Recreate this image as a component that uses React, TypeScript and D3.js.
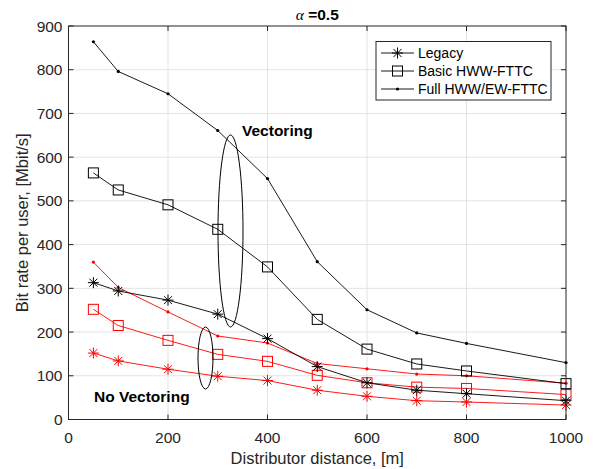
import React, { useEffect, useRef } from "react";
import * as d3 from "d3";

// distances, [m]
const distances = [50, 100, 200, 300, 400, 500, 600, 700, 800, 1000];

// vectoring (black)
const legacyVec = [313, 294, 273, 241, 185, 121, 84, 67, 59, 43];
const basicVec = [564, 525, 491, 435, 349, 229, 161, 127, 111, 82];
const fullVec = [864, 796, 745, 661, 551, 361, 251, 198, 174, 130];

// no vectoring (red)
const legacyNoVec = [152, 134, 115, 99, 89, 67, 53, 43, 40, 33];
const basicNoVec = [252, 215, 181, 149, 133, 101, 84, 74, 71, 57];
const fullNoVec = [360, 302, 246, 191, 175, 128, 116, 104, 100, 83];

const xTicks = [0, 200, 400, 600, 800, 1000];
const yTicks = [0, 100, 200, 300, 400, 500, 600, 700, 800, 900];
const legendNames = ["Legacy", "Basic HWW-FTTC", "Full HWW/EW-FTTC"];

const W = 593;
const H = 469;
const m = { left: 68.5, right: 27, top: 26, bottom: 49.5 };
const axisCol = "#262626";
const font = "'Liberation Sans', Arial, sans-serif";

function App() {
    const svgRef = useRef<SVGSVGElement>(null);

    useEffect(() => {
        const svg = d3.select(svgRef.current);
        svg.selectAll("*").remove();

        const x = d3.scaleLinear().domain([0, 1000]).range([m.left, W - m.right]);
        const y = d3.scaleLinear().domain([0, 900]).range([H - m.bottom, m.top]);
        const x0 = x(0), x1 = x(1000), y0 = y(0), y1 = y(900);

        svg.append("rect").attr("x", x0).attr("y", y1).attr("width", x1 - x0).attr("height", y0 - y1).attr("fill", "#fff");

        // grid
        svg.selectAll("line.gx").data(xTicks.slice(1, -1)).join("line")
            .attr("x1", (d) => x(d)).attr("x2", (d) => x(d)).attr("y1", y0).attr("y2", y1)
            .attr("stroke", "#e3e3e3").attr("stroke-width", 1);
        svg.selectAll("line.gy").data(yTicks.slice(1, -1)).join("line")
            .attr("y1", (d) => y(d)).attr("y2", (d) => y(d)).attr("x1", x0).attr("x2", x1)
            .attr("stroke", "#e3e3e3").attr("stroke-width", 1);

        // ticks inside the box, all sides
        const tl = 5;
        xTicks.forEach((t) => {
            svg.append("line").attr("x1", x(t)).attr("x2", x(t)).attr("y1", y0).attr("y2", y0 - tl).attr("stroke", axisCol);
            svg.append("line").attr("x1", x(t)).attr("x2", x(t)).attr("y1", y1).attr("y2", y1 + tl).attr("stroke", axisCol);
        });
        yTicks.forEach((t) => {
            svg.append("line").attr("y1", y(t)).attr("y2", y(t)).attr("x1", x0).attr("x2", x0 + tl).attr("stroke", axisCol);
            svg.append("line").attr("y1", y(t)).attr("y2", y(t)).attr("x1", x1).attr("x2", x1 - tl).attr("stroke", axisCol);
        });

        // tick labels
        svg.selectAll("text.xt").data(xTicks).join("text")
            .attr("x", (d) => x(d)).attr("y", y0 + 23).attr("text-anchor", "middle")
            .attr("font-family", font).attr("font-size", 15.5).attr("fill", axisCol).text((d) => d);
        svg.selectAll("text.yt").data(yTicks).join("text")
            .attr("x", x0 - 6).attr("y", (d) => y(d) + 5.5).attr("text-anchor", "end")
            .attr("font-family", font).attr("font-size", 15.5).attr("fill", axisCol).text((d) => d);

        // axis labels
        svg.append("text").attr("x", (x0 + x1) / 2).attr("y", 464).attr("text-anchor", "middle")
            .attr("font-family", font).attr("font-size", 16.5).attr("fill", axisCol).text("Distributor distance, [m]");
        svg.append("text").attr("transform", `translate(28,${(y0 + y1) / 2}) rotate(-90)`).attr("text-anchor", "middle")
            .attr("font-family", font).attr("font-size", 16.5).attr("fill", axisCol).text("Bit rate per user, [Mbit/s]");

        // title
        const title = svg.append("text").attr("x", (x0 + x1) / 2).attr("y", 20).attr("text-anchor", "middle")
            .attr("font-family", font).attr("font-size", 15.5).attr("fill", "#000");
        title.append("tspan").attr("font-family", "'Liberation Serif', serif").attr("font-style", "italic").text("α");
        title.append("tspan").attr("font-weight", "bold").text(" =0.5");

        // markers
        const star = (g: any, cx: number, cy: number, col: string) => {
            const r = 5.5, q = r * 0.72;
            g.append("path")
                .attr("d", `M${cx - r},${cy}H${cx + r}M${cx},${cy - r}V${cy + r}M${cx - q},${cy - q}L${cx + q},${cy + q}M${cx - q},${cy + q}L${cx + q},${cy - q}`)
                .attr("stroke", col).attr("stroke-width", 1).attr("fill", "none");
        };
        const square = (g: any, cx: number, cy: number, col: string) => {
            g.append("rect").attr("x", cx - 5).attr("y", cy - 5).attr("width", 10).attr("height", 10)
                .attr("fill", "none").attr("stroke", col).attr("stroke-width", 1);
        };
        const dot = (g: any, cx: number, cy: number, col: string) => {
            g.append("circle").attr("cx", cx).attr("cy", cy).attr("r", 1.6).attr("fill", col);
        };
        const markers = [star, square, dot];

        const line = d3.line<number>().x((d, i) => x(distances[i])).y((d) => y(d));
        const series = [
            { v: fullNoVec, col: "#ff0000", mk: 2 },
            { v: basicNoVec, col: "#ff0000", mk: 1 },
            { v: legacyNoVec, col: "#ff0000", mk: 0 },
            { v: legacyVec, col: "#000", mk: 0 },
            { v: basicVec, col: "#000", mk: 1 },
            { v: fullVec, col: "#000", mk: 2 },
        ];
        series.forEach((s) => {
            const g = svg.append("g");
            g.append("path").attr("d", line(s.v)).attr("fill", "none").attr("stroke", s.col).attr("stroke-width", 0.9);
            s.v.forEach((v, i) => markers[s.mk](g, x(distances[i]), y(v), s.col));
        });

        // box
        svg.append("rect").attr("x", x0).attr("y", y1).attr("width", x1 - x0).attr("height", y0 - y1)
            .attr("fill", "none").attr("stroke", axisCol).attr("stroke-width", 1);

        // ellipses + annotations
        svg.append("ellipse").attr("cx", 230.5).attr("cy", 231).attr("rx", 12.5).attr("ry", 96)
            .attr("fill", "none").attr("stroke", "#000").attr("stroke-width", 1);
        svg.append("ellipse").attr("cx", 205.5).attr("cy", 358).attr("rx", 7.5).attr("ry", 31)
            .attr("fill", "none").attr("stroke", "#000").attr("stroke-width", 1);
        svg.append("text").attr("x", 242).attr("y", 135.5).attr("font-family", font).attr("font-weight", "bold")
            .attr("font-size", 15.5).attr("fill", "#000").text("Vectoring");
        svg.append("text").attr("x", 94).attr("y", 401.5).attr("font-family", font).attr("font-weight", "bold")
            .attr("font-size", 15.5).attr("fill", "#000").text("No Vectoring");

        // legend
        const lg = svg.append("g");
        lg.append("rect").attr("x", 376).attr("y", 41.5).attr("width", 175).attr("height", 58.5)
            .attr("fill", "#fff").attr("stroke", axisCol).attr("stroke-width", 1);
        legendNames.forEach((n, i) => {
            const ly = 53 + i * 18;
            lg.append("line").attr("x1", 381).attr("x2", 414).attr("y1", ly).attr("y2", ly).attr("stroke", "#000").attr("stroke-width", 0.9);
            markers[i](lg, 397.5, ly, "#000");
            lg.append("text").attr("x", 418).attr("y", ly + 5).attr("font-family", font).attr("font-size", 14)
                .attr("fill", "#000").text(n);
        });
    }, []);

    return (
        <svg ref={svgRef} width={W} height={H} style={{ position: "absolute", left: 0, top: 0, background: "#fff" }}></svg>
    );
}

export default App;
